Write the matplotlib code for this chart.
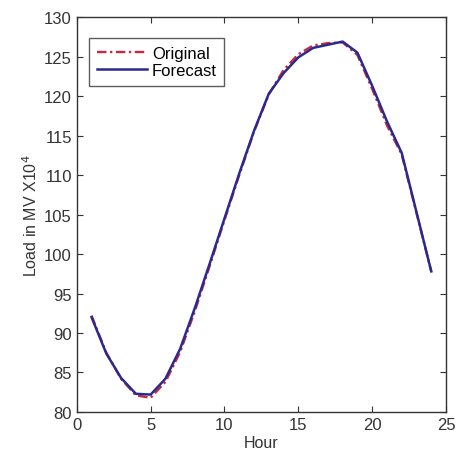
import numpy as np
import matplotlib.pyplot as plt

plt.rcParams['font.family'] = ['Liberation Sans', 'DejaVu Sans']

# Hourly load (MV x10^4)
hours = np.arange(1, 25)
original = [92.2, 87.5, 84.2, 82.1, 81.8, 83.8, 87.6, 92.8, 98.5, 104.3, 110.0, 115.5,
            120.2, 123.3, 125.3, 126.4, 126.7, 126.8, 125.2, 120.9, 116.3, 112.6, 105.2, 97.8]
forecast = [92.0, 87.4, 84.3, 82.3, 82.2, 84.2, 88.0, 93.2, 98.8, 104.5, 110.2, 115.6,
            120.3, 122.9, 124.9, 126.1, 126.5, 126.9, 125.5, 121.3, 116.8, 112.8, 105.3, 97.8]

fig = plt.figure(figsize=(4.57, 4.64), dpi=100)
ax = fig.add_axes([0.168, 0.110, 0.808, 0.851])

ax.plot(hours, original, color='#c8283a', linestyle=(0, (4, 1.5, 1, 1.5)), linewidth=1.7,
        label='Original')
ax.plot(hours, forecast, color='#2a2a8e', linestyle='-', linewidth=1.8, label='Forecast')

ax.set_xlim(0, 25)
ax.set_ylim(80, 130)
ax.set_xticks(np.arange(0, 26, 5))
ax.set_yticks(np.arange(80, 131, 5))
ax.tick_params(direction='in', top=True, right=True, labelsize=12, color='#333333',
               labelcolor='#333333', length=4)
for s in ax.spines.values():
    s.set_linewidth(1.0)
    s.set_color('#333333')

ax.set_xlabel('Hour', fontsize=11.5, color='#333333', labelpad=2)
ax.set_ylabel('Load in MV X10$^4$', fontsize=11.5, color='#333333', labelpad=3)

leg = ax.legend(loc='upper left', bbox_to_anchor=(0.025, 0.955), fontsize=12,
                frameon=True, fancybox=False, edgecolor='#333333', handlelength=3.0,
                borderpad=0.45, labelspacing=0.15, handletextpad=0.3, borderaxespad=0.2)
leg.get_frame().set_linewidth(1.0)

fig.savefig('out.png', dpi=100)
